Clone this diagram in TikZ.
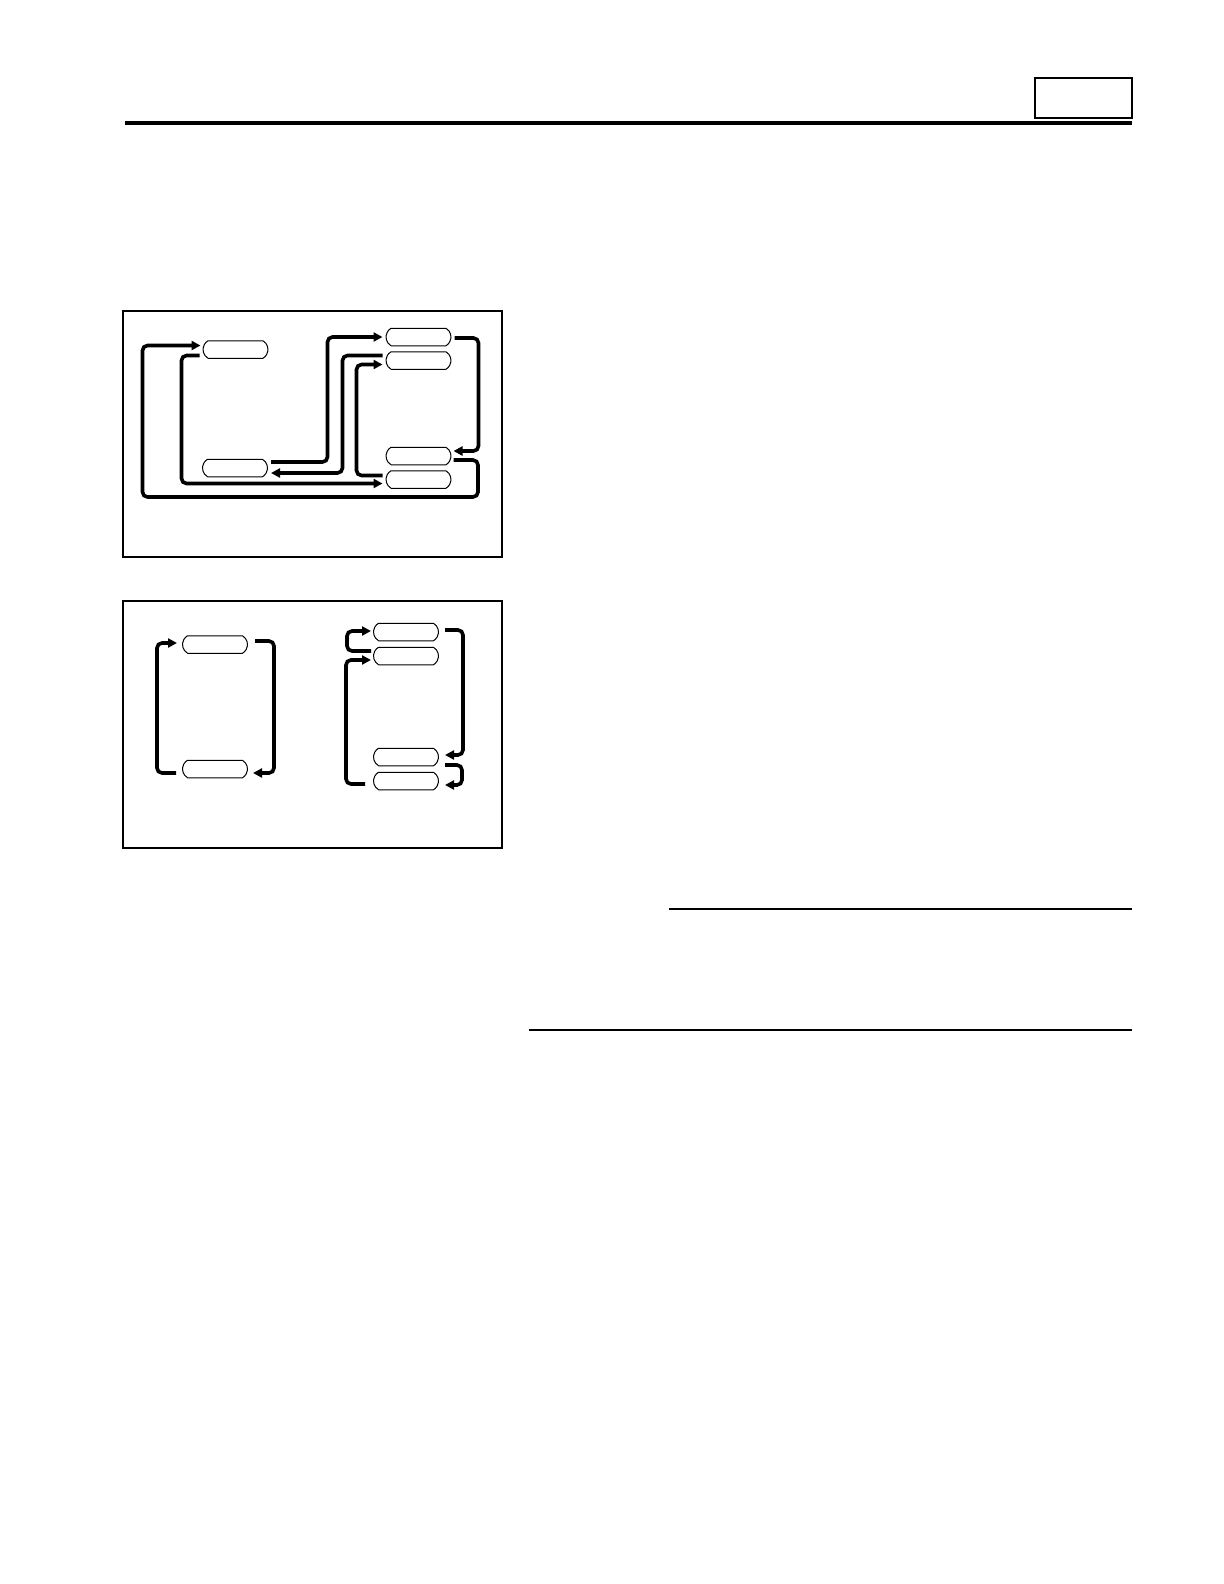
\documentclass[tikz,border=0pt]{standalone}
\usepackage{tikz}
\usetikzlibrary{calc,arrows.meta,shapes.misc}
\begin{document}
\begin{tikzpicture}[x=0.5pt,y=-0.5pt,
  part/.style={draw,line width=0.5pt,rounded rectangle,rounded rectangle arc length=120,minimum width=32.5pt,minimum height=8.75pt,inner sep=0pt},
  flow/.style={line width=1.8pt,rounded corners=2.5pt,-{Triangle[length=4.5pt,width=4.5pt]}}]
\useasboundingbox (0,0) rectangle (1224,1584);
\draw[line width=2pt] (125,123) -- (1132,123);
\draw[line width=0.9pt] (1035,78) rectangle (1132,118);
\draw[line width=1pt] (669,909) -- (1132,909);
\draw[line width=1pt] (529,1030) -- (1132,1030);
\draw[line width=0.8pt] (123,311) rectangle (502,557);
\draw[line width=0.8pt] (123,601) rectangle (502,848);

\node[part] (a1) at (235.5,349.5) {};
\node[part] (b1) at (235,468) {};
\node[part] (c1) at (418.5,337) {};
\node[part] (c2) at (418.5,360.5) {};
\node[part] (c3) at (418.5,456) {};
\node[part] (c4) at (418.5,479.5) {};
\draw[flow] ($(c3.east)+(2,4)$) -| (478,497) -| ($(a1.west)+(-60,-4)$) -- ($(a1.west)+(-2,-4)$);
\draw[flow] ($(a1.west)+(-3,6)$) -| ($(c4.west)+(-204,4)$) -- ($(c4.west)+(-3,4)$);
\draw[flow] ($(b1.east)+(3,-6)$) -| ($(c1.west)+(-58,0)$) -- ($(c1.west)+(-3,0)$);
\draw[flow] ($(c2.west)+(-3,-5)$) -| ($(b1.east)+(74.5,5)$) -- ($(b1.east)+(3,5)$);
\draw[flow] ($(c4.west)+(-3,-4)$) -| ($(c2.west)+(-29,4)$) -- ($(c2.west)+(-3,4)$);
\draw[flow] ($(c1.east)+(3,1)$) -| ($(c3.east)+(27,-5)$) -- ($(c3.east)+(2,-5)$);

\node[part] (d1) at (215,644.5) {};
\node[part] (d2) at (215,769) {};
\node[part] (e1) at (406,632) {};
\node[part] (e2) at (406,656) {};
\node[part] (e3) at (406,757) {};
\node[part] (e4) at (406,781) {};
\draw[flow] ($(d2.west)+(-6,4)$) -| ($(d1.west)+(-25,-1.5)$) -- ($(d1.west)+(-5,-1.5)$);
\draw[flow] ($(d1.east)+(7,-3.5)$) -| ($(d2.east)+(26,4)$) -- ($(d2.east)+(5,4)$);
\draw[flow] ($(e2.west)+(-2,-5)$) -| ($(e1.west)+(-26,-1)$) -- ($(e1.west)+(-2,-1)$);
\draw[flow] ($(e4.west)+(-8,3)$) -| ($(e2.west)+(-27,4)$) -- ($(e2.west)+(-2,4)$);
\draw[flow] ($(e1.east)+(6,-2)$) -| ($(e3.east)+(24,-2)$) -- ($(e3.east)+(6,-2)$);
\draw[flow] ($(e3.east)+(6,8)$) -| ($(e4.east)+(23,4)$) -- ($(e4.east)+(6,4)$);
\end{tikzpicture}
\end{document}
